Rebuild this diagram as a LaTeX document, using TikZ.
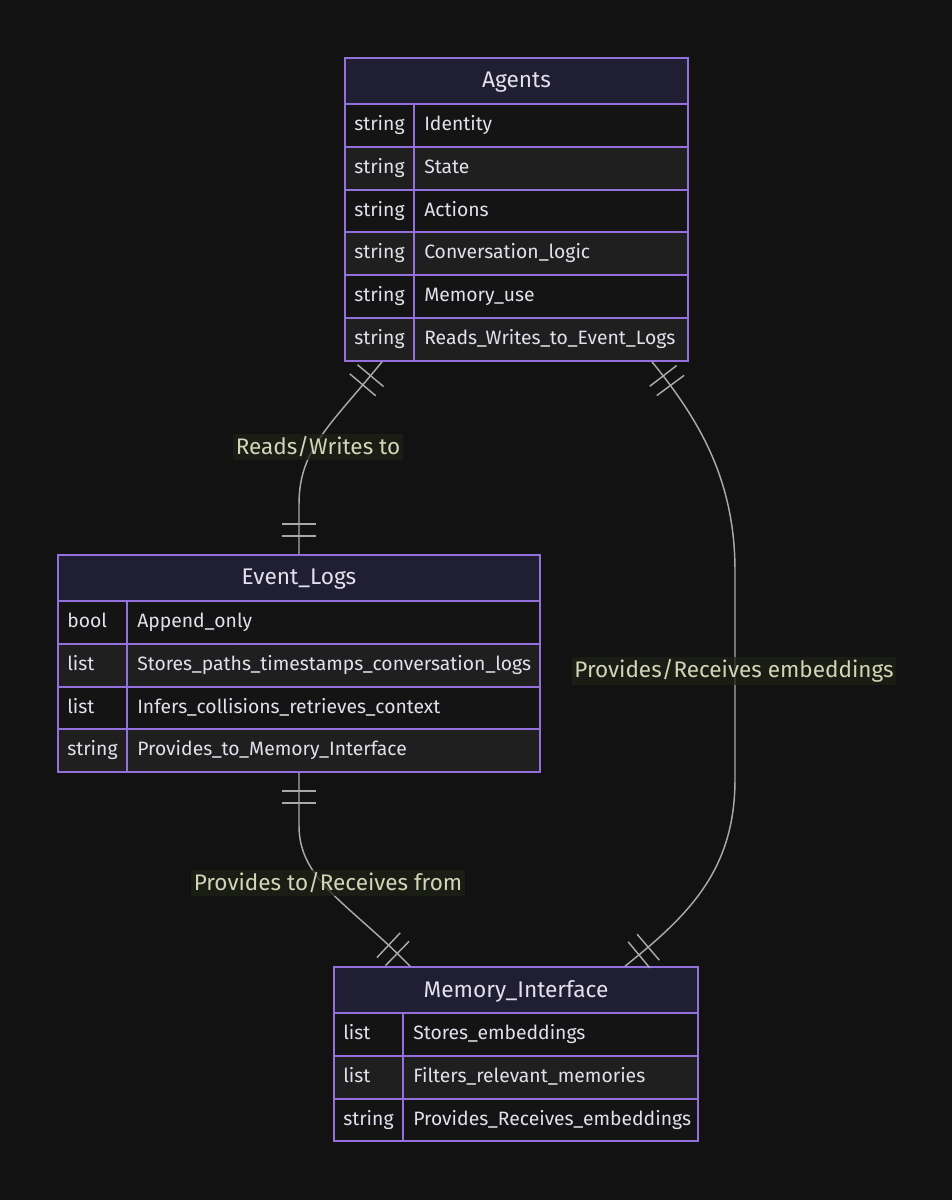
\documentclass[tikz,border=0pt]{standalone}
\usepackage{fontspec}
\setmainfont{Fira Sans}
\usetikzlibrary{calc,fit,decorations.markings}
\definecolor{bgc}{HTML}{121212}
\definecolor{hdr}{HTML}{201E33}
\definecolor{rowodd}{HTML}{141414}
\definecolor{roweven}{HTML}{1F1F1F}
\definecolor{bord}{HTML}{9370DB}
\definecolor{txt}{HTML}{E2E0EA}
\definecolor{lin}{HTML}{A9A9A9}
\definecolor{lbltxt}{HTML}{D4D4B8}
\definecolor{lblbg}{HTML}{1E2114}

\tikzset{
  rowtxt/.style={anchor=west, inner sep=0pt, text=txt, font=\fontsize{14.5}{17}\selectfont, text height=0.7em, text depth=0.2em},
  titletxt/.style={inner sep=0pt, text=txt, font=\fontsize{17}{20}\selectfont},
  bordline/.style={draw=bord, line width=1.2pt},
  tick/.style={draw=lin, line width=1.1pt},
  rel/.style={draw=lin, line width=1.1pt, postaction=decorate,
    decoration={markings,
      mark=at position 13.5pt with {\draw[tick] (0,-12.75pt) -- (0,12.75pt);},
      mark=at position 22.5pt with {\draw[tick] (0,-12.75pt) -- (0,12.75pt);},
      mark=at position -13.5pt with {\draw[tick] (0,-12.75pt) -- (0,12.75pt);},
      mark=at position -22.5pt with {\draw[tick] (0,-12.75pt) -- (0,12.75pt);}}},
  elabel/.style={fill=lblbg, fill opacity=0.75, text opacity=1, text=lbltxt, inner sep=2pt, font=\fontsize{16.9}{20}\selectfont}
}

% #1 name, #2 x1, #3 y1, #4 x2, #5 divider x, #6 y2, #7 title, #8 rows
\newcommand{\drawentity}[8]{%
  \fill[hdr] (#2,#3) rectangle (#4,#3+46);
  \foreach \ty/\nm [count=\i] in {#8} {
    \pgfmathsetmacro\ya{round(#3+46+(\i-1)*42.8)}
    \pgfmathtruncatemacro\od{mod(\i,2)}
    \ifnum\od=1 \def\rc{rowodd}\else\def\rc{roweven}\fi
    \fill[\rc] (#2,\ya) rectangle (#4,\ya+43);
  }
  \foreach \ty/\nm [count=\i] in {#8} {
    \pgfmathsetmacro\ya{round(#3+46+(\i-1)*42.8)}
    \draw[bordline] (#2,\ya) -- (#4,\ya);
    \draw[bordline] (#5,\ya) -- (#5,\ya+43);
    \node[rowtxt] (#1-t\i) at (#2+9,\ya+23) {\ty};
    \node[rowtxt] (#1-n\i) at (#5+10,\ya+23) {\nm};
  }
  \node[fit={(#2,#3) (#4,#6)}, inner sep=0pt, bordline] (#1) {};
  \node[titletxt] (#1-title) at ({(#2+#4)/2},#3+24) {#7};
}

\begin{document}
\begin{tikzpicture}[x=0.75pt,y=-0.75pt]
\fill[bgc] (0,0) rectangle (952,1200);
\useasboundingbox (0,0) rectangle (952,1200);

\drawentity{agents}{345}{58}{688}{414}{361}{Agents}{string/Identity, string/State, string/Actions, string/Conversation\_logic, string/Memory\_use, string/Reads\_Writes\_to\_Event\_Logs}
\drawentity{events}{58}{555}{540}{127}{772}{Event\_Logs}{bool/Append\_only, list/Stores\_paths\_timestamps\_conversation\_logs, list/Infers\_collisions\_retrieves\_context, string/Provides\_to\_Memory\_Interface}
\drawentity{memory}{334}{967}{698}{403}{1141}{Memory\_Interface}{list/Stores\_embeddings, list/Filters\_relevant\_memories, string/Provides\_Receives\_embeddings}

% connector end points
\coordinate (e1s) at ($(agents.south)+(-134.5,0)$);
\coordinate (e1t) at (events.north);
\coordinate (e2s) at ($(agents.south)+(135.5,0)$);
\coordinate (e2t) at ($(memory.north)+(109,0)$);
\coordinate (e3s) at (events.south);
\coordinate (e3t) at ($(memory.north)+(-106,0)$);

\draw[rel] (e1s) .. controls ($(e1s)+(-52,64)$) and ($(e1t)+(0,-105)$) .. ($(e1t)+(0,-50)$) -- (e1t);
\draw[rel] (e2s) .. controls ($(e2s)+(48,59)$) and ($(e2s)+(83,119)$) .. ($(e2s)+(83,209)$) -- ($(e2t)+(110,-187)$) .. controls ($(e2t)+(110,-97)$) and ($(e2t)+(65,-52)$) .. (e2t);
\draw[rel] (e3s) -- ($(e3s)+(0,53)$) .. controls ($(e3s)+(0,108)$) and ($(e3t)+(-60,-62)$) .. (e3t);

\node[elabel] (l1) at (318,447) {Reads/Writes to};
\node[elabel] (l2) at (734,671) {Provides/Receives embeddings};
\node[elabel] (l3) at (328,883) {Provides to/Receives from};
\end{tikzpicture}
\end{document}
